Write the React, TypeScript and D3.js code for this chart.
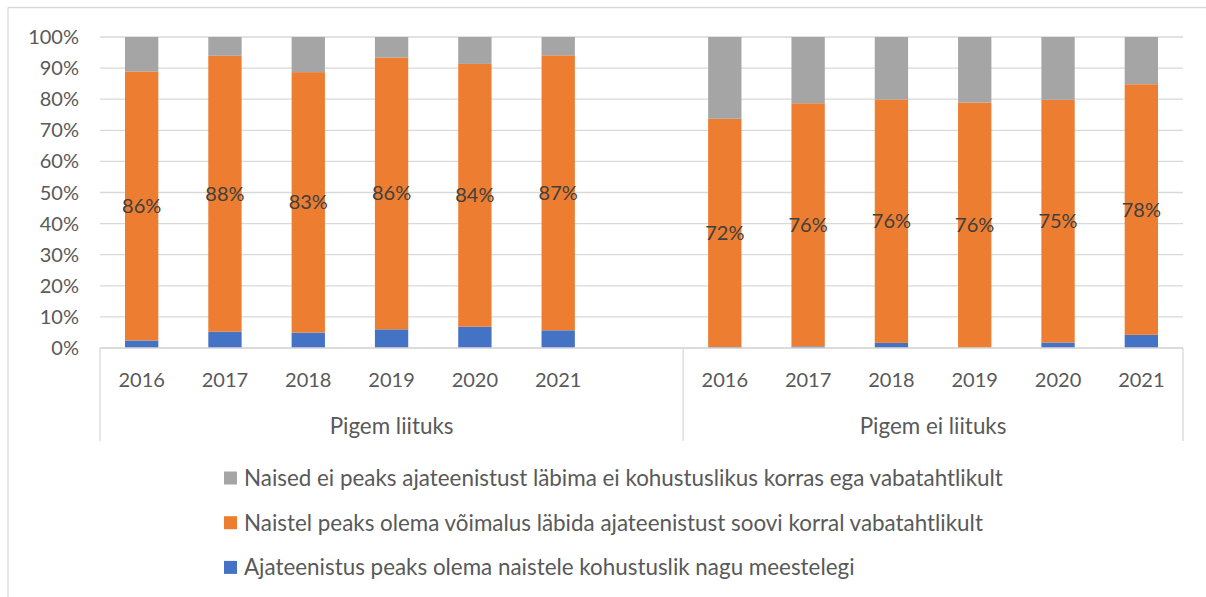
import React from 'react';
import * as d3 from 'd3';

// chart size and plot margins
const W = 1206;
const H = 597;
const plot = { left: 100, right: 1183, top: 37, bottom: 348 };

const years = ['2016', '2017', '2018', '2019', '2020', '2021'];
const groups = ['Pigem liituks', 'Pigem ei liituks'];

// raw survey shares (%), Excel normalises each bar to 100%
const mandatoryA = [2.4, 5.2, 4.9, 5.9, 6.8, 5.6];
const voluntaryA = [86, 88, 83, 86, 84, 87];
const neverA = [11, 6, 11.2, 6.5, 8.6, 5.8];

const mandatoryB = [0.3, 0.5, 1.6, 0, 1.7, 4.1];
const voluntaryB = [72, 76, 76, 76, 75, 78];
const neverB = [25.8, 20.7, 19.5, 20.3, 19.4, 14.7];

const yTicks = [0, 10, 20, 30, 40, 50, 60, 70, 80, 90, 100];

const series = [
  { key: 'mandatory', color: '#4472C4', name: 'Ajateenistus peaks olema naistele kohustuslik nagu meestelegi' },
  { key: 'voluntary', color: '#ED7D31', name: 'Naistel peaks olema võimalus läbida ajateenistust soovi korral vabatahtlikult' },
  { key: 'never', color: '#A5A5A5', name: 'Naised ei peaks ajateenistust läbima ei kohustuslikus korras ega vabatahtlikult' },
];

type Row = { id: string; year: string; mandatory: number; voluntary: number; never: number };

const rows: Row[] = [
  ...years.map((y, i) => ({ id: 'a' + y, year: y, mandatory: mandatoryA[i], voluntary: voluntaryA[i], never: neverA[i] })),
  ...years.map((y, i) => ({ id: 'b' + y, year: y, mandatory: mandatoryB[i], voluntary: voluntaryB[i], never: neverB[i] })),
];

// one empty slot closes the first group
const slots = [...years.map(y => 'a' + y), 'gap', ...years.map(y => 'b' + y)];

const font = 'Lato, "Open Sans", sans-serif';
const textColor = '#595959';

export default function App() {
  const x = d3.scaleBand().domain(slots).range([plot.left, plot.right]).paddingInner(0.6).paddingOuter(0.3);
  const y = d3.scaleLinear().domain([0, 1]).range([plot.bottom, plot.top]);
  const step = x.step();

  const stacked = d3.stack<Row>().keys(series.map(s => s.key)).offset(d3.stackOffsetExpand)(rows);

  // group separators in slot units: 0, 7, 13
  const bounds = [0, 7, 13].map(i => plot.left + i * step);
  const groupCenters = [(bounds[0] + bounds[1]) / 2, (bounds[1] + bounds[2]) / 2];

  const legend = [...series].reverse();

  return (
    <svg width={W} height={H} style={{ position: 'absolute', left: 0, top: 0 }}>
      <rect x={0} y={0} width={W} height={H} fill="#fff" />
      {/* chart frame */}
      <line x1={8} x2={W} y1={7.5} y2={7.5} stroke="#D9D9D9" strokeWidth={1.3} />
      <line x1={8} x2={8} y1={7.5} y2={H} stroke="#D9D9D9" strokeWidth={1.3} />

      {/* gridlines and y labels */}
      {yTicks.map(t => (
        <g key={t}>
          <line x1={plot.left} x2={plot.right} y1={y(t / 100)} y2={y(t / 100)} stroke="#D9D9D9" strokeWidth={1.3} />
          <text x={79} y={y(t / 100)} dy="0.35em" textAnchor="end" fontFamily={font} fontSize={20} fill={textColor}>
            {t}%
          </text>
        </g>
      ))}

      {/* bars */}
      {stacked.map((layer, li) => (
        <g key={layer.key} fill={series[li].color}>
          {layer.map((d, i) => (
            <rect
              key={i}
              x={x(rows[i].id)}
              y={y(d[1])}
              width={x.bandwidth()}
              height={Math.max(0, y(d[0]) - y(d[1]))}
            />
          ))}
        </g>
      ))}

      {/* data labels on the orange segment */}
      {stacked[1].map((d, i) => (
        <text
          key={i}
          x={(x(rows[i].id) as number) + x.bandwidth() / 2}
          y={y((d[0] + d[1]) / 2)}
          dy="0.35em"
          textAnchor="middle"
          fontFamily={font}
          fontSize={20}
          fill="#404040"
        >
          {Math.round(rows[i].voluntary)}%
        </text>
      ))}

      {/* category axis */}
      <line x1={plot.left} x2={plot.right} y1={plot.bottom} y2={plot.bottom} stroke="#D9D9D9" strokeWidth={1.3} />
      {bounds.map((b, i) => (
        <line key={i} x1={b} x2={b} y1={plot.bottom} y2={441} stroke="#D9D9D9" strokeWidth={1.3} />
      ))}
      {rows.map(r => (
        <text
          key={r.id}
          x={(x(r.id) as number) + x.bandwidth() / 2}
          y={380}
          dy="0.35em"
          textAnchor="middle"
          fontFamily={font}
          fontSize={20}
          fill={textColor}
        >
          {r.year}
        </text>
      ))}
      {groups.map((g, i) => (
        <text key={g} x={groupCenters[i]} y={426} dy="0.35em" textAnchor="middle" fontFamily={font} fontSize={22.4} fill={textColor}>
          {g}
        </text>
      ))}

      {/* legend */}
      {legend.map((s, i) => (
        <g key={s.key} transform={`translate(224, ${478 + i * 44.7})`}>
          <rect x={0} y={-6.5} width={13} height={13} fill={s.color} />
          <text x={20} y={0} dy="0.35em" fontFamily={font} fontSize={22.4} fill={textColor}>
            {s.name}
          </text>
        </g>
      ))}
    </svg>
  );
}
